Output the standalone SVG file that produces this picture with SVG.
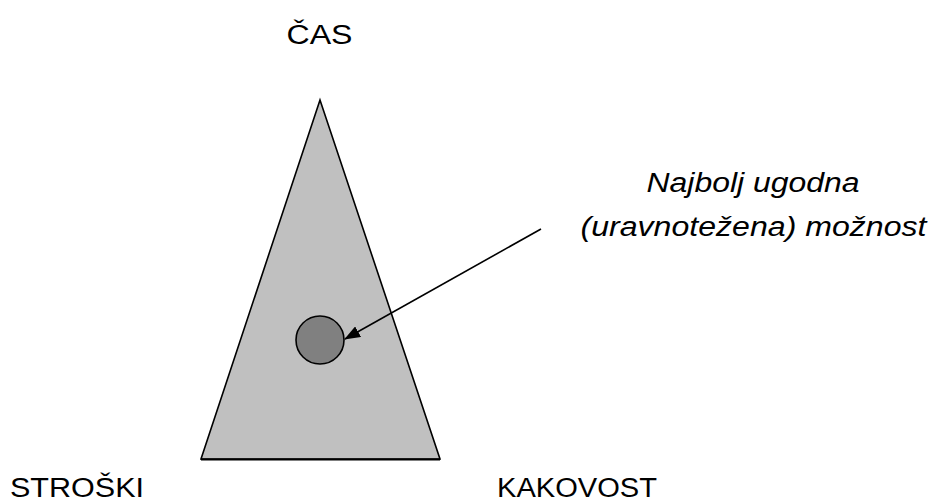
<svg xmlns="http://www.w3.org/2000/svg" width="931" height="502" viewBox="0 0 931 502">
<defs>
<style>
.t{font-family:"Liberation Sans",Arial,sans-serif;font-size:27px;fill:#000}
.i{font-style:italic}
</style>
<marker id="ah" markerWidth="16" markerHeight="12" refX="15" refY="6" orient="auto" markerUnits="userSpaceOnUse">
<path d="M0,0 L16,6 L0,12 Z" fill="#000"/>
</marker>
</defs>
<rect width="931" height="502" fill="#fff"/>
<g id="triangle">
<polygon points="320,100 201,459 440,459" fill="#c0c0c0" stroke="#000" stroke-width="1.6" stroke-linejoin="miter"/>
<line x1="201" y1="459.5" x2="440" y2="459.5" stroke="#000" stroke-width="2"/>
</g>
<g id="point">
<circle cx="320" cy="340" r="24" fill="#808080" stroke="#000" stroke-width="1.6"/>
</g>
<g id="connectors">
<line x1="541" y1="229" x2="345" y2="339" stroke="#000" stroke-width="1.6" marker-end="url(#ah)"/>
</g>
<g id="cas"><text class="t" x="319.5" y="44" text-anchor="middle" textLength="66" lengthAdjust="spacingAndGlyphs">ČAS</text></g>
<g id="stroski"><text class="t" x="10" y="497" textLength="134" lengthAdjust="spacingAndGlyphs">STROŠKI</text></g>
<g id="kakovost"><text class="t" x="497" y="497" textLength="160" lengthAdjust="spacingAndGlyphs">KAKOVOST</text></g>
<g id="label">
<text class="t i" x="753" y="192" text-anchor="middle" textLength="213" lengthAdjust="spacingAndGlyphs">Najbolj ugodna</text>
<text class="t i" x="753.5" y="236" text-anchor="middle" textLength="346" lengthAdjust="spacingAndGlyphs">(uravnotežena) možnost</text>
</g>
</svg>
